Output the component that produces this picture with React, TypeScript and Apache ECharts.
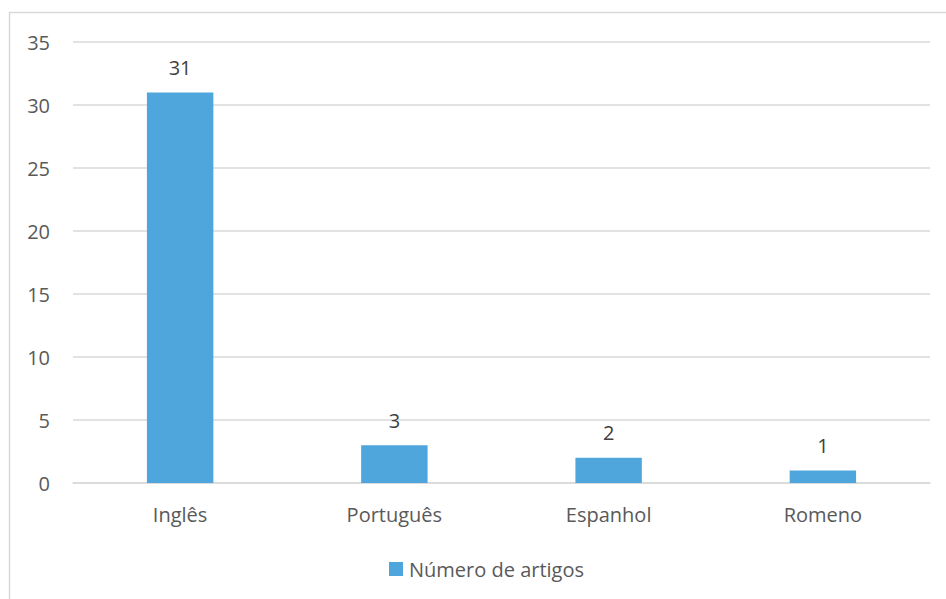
import React, { useEffect, useRef } from "react";
import * as echarts from "echarts";

const categories = ["Inglês", "Português", "Espanhol", "Romeno"];
const articleCounts = [31, 3, 2, 1];
const seriesName = "Número de artigos";

const FONT = "'Open Sans', 'Liberation Sans', sans-serif";
const FS = 20;

export default function App() {
  const ref = useRef<HTMLDivElement>(null);

  useEffect(() => {
    if (!ref.current) return;
    const chart = echarts.init(ref.current, null, { renderer: "svg" });
    chart.setOption({
      animation: false,
      backgroundColor: "#ffffff",
      textStyle: { fontFamily: FONT },
      graphic: [
        {
          type: "rect",
          shape: { x: 9.5, y: 12.5, width: 1000, height: 700 },
          style: { fill: "none", stroke: "#d9d9d9", lineWidth: 1.5 },
          silent: true,
        },
      ],
      grid: { left: 73, right: 16, top: 42, bottom: 116, containLabel: false },
      legend: {
        data: [seriesName],
        top: 559,
        left: 389,
        padding: 0,
        icon: "rect",
        itemWidth: 14,
        itemHeight: 14,
        textStyle: { fontFamily: FONT, fontSize: FS, color: "#595959", padding: [0, 0, 0, 1] },
      },
      xAxis: {
        type: "category",
        data: categories,
        axisTick: { show: false },
        axisLine: { lineStyle: { color: "#d9d9d9", width: 1.5 } },
        axisLabel: { fontFamily: FONT, fontSize: FS, color: "#595959", margin: 21 },
      },
      yAxis: {
        type: "value",
        min: 0,
        max: 35,
        interval: 5,
        axisLine: { show: false },
        axisTick: { show: false },
        splitLine: { lineStyle: { color: "#d9d9d9", width: 1.5 } },
        axisLabel: { fontFamily: FONT, fontSize: FS, color: "#595959", margin: 23 },
      },
      series: [
        {
          name: seriesName,
          type: "bar",
          data: articleCounts,
          barWidth: "31%",
          itemStyle: { color: "#4ea6dc" },
          label: {
            show: true,
            position: "top",
            distance: 15,
            fontFamily: FONT,
            fontSize: FS,
            color: "#404040",
          },
        },
      ],
    });
    return () => chart.dispose();
  }, []);

  return (
    <div
      ref={ref}
      style={{ position: "fixed", left: 0, top: 0, width: 946, height: 599 }}
    />
  );
}
